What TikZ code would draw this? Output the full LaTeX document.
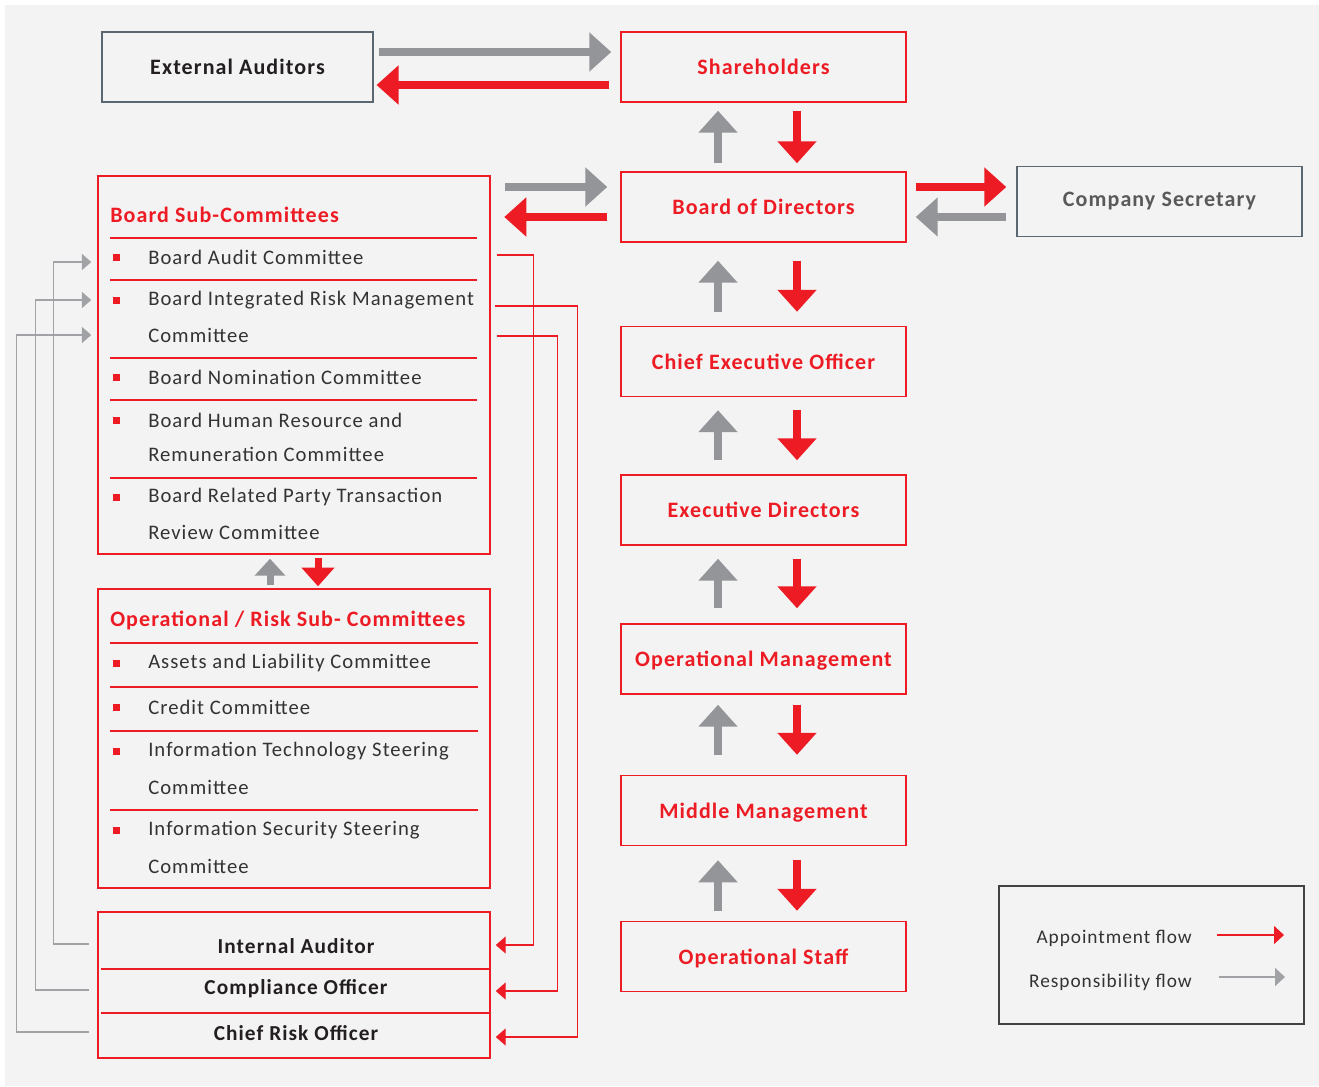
\documentclass[tikz,border=0pt]{standalone}
\usepackage{fontspec}
\setmainfont{Carlito}[LetterSpace=5]
\usetikzlibrary{arrows.meta,calc}
\definecolor{cred}{HTML}{ED1C24}
\definecolor{cgray}{HTML}{939598}
\definecolor{clgray}{HTML}{A0A2A5}
\definecolor{ctext}{HTML}{231F20}
\definecolor{citem}{HTML}{333333}
\definecolor{cbg}{HTML}{F3F3F3}
\definecolor{cblue}{HTML}{5B6770}
\definecolor{csec}{HTML}{58595B}
\begin{document}
\begin{tikzpicture}[x=0.75pt,y=-0.75pt,
  redbox/.style={draw=cred, line width=1.1pt, minimum width=213.75pt, minimum height=52.5pt, inner sep=0pt,
    font=\bfseries\fontsize{16.5}{19}\selectfont, text=cred},
  graybox/.style={draw=cblue, line width=1.1pt, minimum width=203pt, minimum height=52.5pt, inner sep=0pt,
    font=\bfseries\fontsize{16.5}{19}\selectfont},
  groupbox/.style={draw=cred, line width=1.1pt, minimum width=294pt, inner sep=0pt},
  grouptitle/.style={anchor=west, inner sep=0pt, text=cred, font=\bfseries\fontsize{16.5}{19}\selectfont},
  itemtext/.style={anchor=west, inner sep=0pt, text=citem, font=\fontsize{15.5}{18}\selectfont},
  bullet/.style={fill=cred, minimum size=5.25pt, inner sep=0pt},
  sepline/.style={draw=cred, line width=1.1pt},
  roletext/.style={inner sep=0pt, text=ctext, font=\bfseries\fontsize{16}{18}\selectfont},
  graybig/.style={draw=cgray, line width=6pt, -{Triangle[length=16.5pt,width=28.5pt]}, color=cgray},
  redbig/.style={draw=cred, line width=6pt, -{Triangle[length=16.5pt,width=28.5pt]}, color=cred},
  graysmall/.style={draw=cgray, line width=5.25pt, -{Triangle[length=12.75pt,width=22.5pt]}, color=cgray},
  redsmall/.style={draw=cred, line width=5.25pt, -{Triangle[length=14pt,width=24pt]}, color=cred},
  redconn/.style={draw=cred, line width=1.1pt, -{Triangle[length=7.5pt,width=12.75pt]}, color=cred},
  grayconn/.style={draw=clgray, line width=1.1pt, -{Triangle[length=7pt,width=12pt]}, color=clgray},
  legtext/.style={anchor=east, inner sep=0pt, text=citem, font=\fontsize{14.5}{16}\selectfont},
  legred/.style={draw=cred, line width=1pt, -{Triangle[length=7.5pt,width=13.5pt]}, color=cred},
  leggray/.style={draw=clgray, line width=1.4pt, -{Triangle[length=7.5pt,width=13.5pt]}, color=clgray}
]
\useasboundingbox (0,0) rectangle (1319,1086);
\fill[white] (0,0) rectangle (1319,1086);
\fill[cbg] (5,5) rectangle (1319,1086);

% right column
\node[graybox, text=ctext] (ea) at (237.5,67) {External Auditors\hspace{10pt}};
\node[redbox] (sh) at (763.5,67) {Shareholders};
\node[redbox] (bod) at (763.5,207) {Board of Directors};
\node[graybox, text=csec, minimum width=213.75pt] (cs) at (1159.5,201.5) {Company Secretary\hspace{7.5pt}};
\node[redbox] (ceo) at (763.5,361.5) {Chief Executive Officer};
\node[redbox] (exd) at (763.5,510) {Executive Directors};
\node[redbox, text depth=0pt] (opm) at (763.5,659) {Operational Management};
\node[redbox, text depth=0pt] (mm) at (763.5,810.5) {Middle Management};
\node[redbox, text depth=0pt] (ops) at (763.5,956.5) {Operational Staff};

% horizontal big arrows
\draw[graybig] ($(ea.east)+(5,-15)$) -- ($(sh.west)+(-9,-15)$);
\draw[redbig] ($(sh.west)+(-11,18)$) -- ($(ea.east)+(3,18)$);
\draw[graybig] ($(bod.west)+(-115,-20)$) -- ($(bod.west)+(-13,-20)$);
\draw[redbig] ($(bod.west)+(-13,10)$) -- ($(bod.west)+(-116,10)$);
\draw[redbig] ($(bod.east)+(9,-20)$) -- ($(cs.west)+(-10,-14.5)$);
\draw[graybig] ($(cs.west)+(-10,15.5)$) -- ($(bod.east)+(9,10)$);

% vertical big arrows
\foreach \up/\dn/\a/\b in {bod/sh/8/8, ceo/bod/14/18, exd/ceo/14/13, opm/exd/15/13, mm/opm/20/10, ops/mm/10/14}{
  \draw[graybig] ($(\up.north)+(-45.5,-\a)$) -- ($(\dn.south)+(-45.5,\b)$);
  \draw[redbig] ($(\dn.south)+(33.5,\b)$) -- ($(\up.north)+(33.5,-\a)$);
}

% Board sub-committees
\node[groupbox, minimum height=283.5pt] (subc) at (294,365) {};
\node[grouptitle] (subt) at (110,215) {Board Sub-Committees};
\foreach \y in {238,280,358,400,478}{\draw[sepline] (110,\y) -- (477,\y);}
\node[itemtext] (aud) at (148,257) {Board Audit Committee};
\node[itemtext] (irm1) at (148,300) {Board Integrated Risk Management};
\node[itemtext] (irm2) at (148,335) {Committee};
\node[itemtext] (nom) at (148,377) {Board Nomination Committee};
\node[itemtext] (hr1) at (148,420) {Board Human Resource and};
\node[itemtext] (hr2) at (148,454) {Remuneration Committee};
\node[itemtext] (rpt1) at (148,497) {Board Related Party Transaction};
\node[itemtext] (rpt2) at (148,532) {Review Committee};
\foreach \n in {aud,irm1,nom,hr1,rpt1}{\node[bullet] at (116,0 |- \n) {};}

% Operational / Risk sub-committees
\node[groupbox, minimum height=224.25pt] (opc) at (294,738.5) {};
\node[grouptitle] (opt) at (110,620) {Operational / Risk Sub- Committees};
\foreach \y in {643,687,731,810}{\draw[sepline] (110,\y) -- (478,\y);}
\node[itemtext] (alc) at (148,663) {Assets and Liability Committee};
\node[itemtext] (cc) at (148,707) {Credit Committee};
\node[itemtext] (its1) at (148,751) {Information Technology Steering};
\node[itemtext] (its2) at (148,787) {Committee};
\node[itemtext] (iss1) at (148,830) {Information Security Steering};
\node[itemtext] (iss2) at (148,866) {Committee};
\foreach \n in {alc,cc,its1,iss1}{\node[bullet] at (116,0 |- \n) {};}

% arrows between groups
\draw[graysmall] ($(opc.north)+(-24,-3)$) -- ($(subc.south)+(-24,4)$);
\draw[redsmall] ($(subc.south)+(24,3)$) -- ($(opc.north)+(24,-2)$);

% bottom roles box
\node[groupbox, minimum height=109.5pt] (bot) at (294,985) {};
\draw[sepline] (101,969) -- (bot.east |- 0,969);
\draw[sepline] (101,1013) -- (bot.east |- 0,1013);
\node[roletext] (ia) at (296,946) {Internal Auditor};
\node[roletext] (co) at (296,989) {Compliance Officer};
\node[roletext] (cro) at (296,1033) {Chief Risk Officer};

% red connectors
\draw[redconn] ($(subc.east |- aud)+(6,-2)$) -- ++(37,0) |- ($(bot.east |- ia)+(5,-1)$);
\draw[redconn] ($(subc.east |- irm1)+(4,6)$) -- ++(83,0) |- ($(bot.east |- cro)+(5,4)$);
\draw[redconn] ($(subc.east |- irm2)+(6,1)$) -- ++(61,0) |- ($(bot.east |- co)+(5,2)$);

% gray connectors
\draw[grayconn] ($(bot.west |- ia)+(-8,-2)$) -- ++(-36,0) |- ($(subc.west |- aud)+(-6,5)$);
\draw[grayconn] ($(bot.west |- co)+(-8,1)$) -- ++(-54,0) |- ($(subc.west |- irm1)+(-6,0)$);
\draw[grayconn] ($(bot.west |- cro)+(-8,-1)$) -- ++(-73,0) |- ($(subc.west |- irm2)+(-6,0)$);

% legend
\node[draw=ctext!85, line width=1.1pt, minimum width=228.75pt, minimum height=103.5pt, inner sep=0pt] (leg) at (1151.5,955) {};
\node[legtext] (la) at (1192,938) {Appointment flow};
\node[legtext] (lr) at (1192,982) {Responsibility flow};
\coordinate (lae) at (1284,935);
\coordinate (lre) at (1285,977);
\draw[legred] ($(la.east)+(25,-3)$) -- (lae);
\draw[leggray] ($(lr.east)+(27,-5)$) -- (lre);
\end{tikzpicture}
\end{document}
